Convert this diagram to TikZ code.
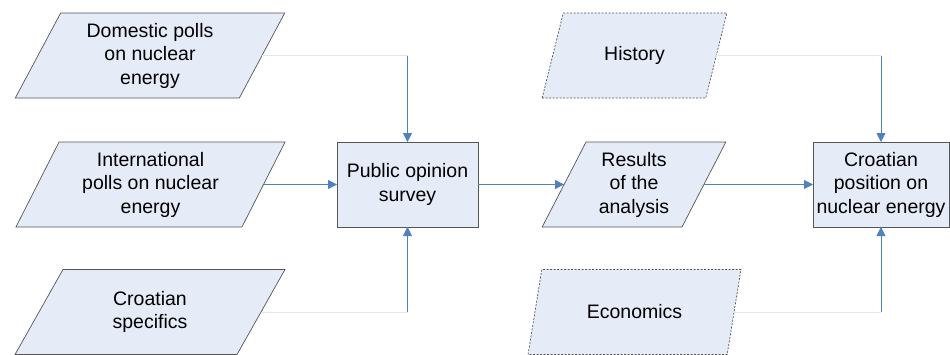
\documentclass[tikz,border=0pt]{standalone}
\usepackage{fontspec}
\setmainfont{Liberation Sans}
\usetikzlibrary{shapes.geometric,arrows.meta}

\definecolor{boxfill}{RGB}{230,236,247}
\definecolor{boxline}{RGB}{85,85,85}
\definecolor{arrowblue}{RGB}{79,129,189}
\definecolor{faintline}{RGB}{222,232,242}

\tikzset{
  base/.style={fill=boxfill, draw=boxline, line width=0.7pt, align=center,
    inner sep=0pt, outer sep=0pt, minimum height=85pt},
  process/.style={base, rectangle},
  data/.style={base, trapezium, trapezium left angle=63.7,
    trapezium right angle=116.3, trapezium stretches=true},
  extdata/.style={data, dash pattern=on 2pt off 1.5pt},
  conn/.style={draw=arrowblue, line width=0.8pt, -{Triangle[width=9pt,length=9pt]}},
  faint/.style={draw=faintline, line width=0.8pt}
}

\begin{document}
\begin{tikzpicture}[x=1pt, y=-1pt, font=\fontsize{19.5}{23.5}\selectfont]
 \useasboundingbox (0,0) rectangle (950,354);

 % inputs
 \node[data, minimum width=270pt] (dom) at (150,55.5) {Domestic polls\\on nuclear\\energy};
 \node[data, minimum width=270pt] (intl) at (150.5,184.5) {International\\polls on nuclear\\energy};
 \node[data, minimum width=270pt] (spec) at (150,312) {Croatian\\specifics};
 \node[process, minimum width=141pt] (survey) at (407.5,184.5) {Public opinion\\survey};

 % outputs
 \node[data, minimum width=184pt] (results) at (634,184.5) {Results\\of the\\analysis};
 \node[extdata, minimum width=185pt] (hist) at (634.5,55.5) {History};
 \node[extdata, minimum width=213pt] (econ) at (634.5,312) {Economics};
 \node[process, minimum width=136pt] (position) at (881,184.5) {Croatian\\position on\\nuclear energy};

 \coordinate (domc) at (survey.north |- dom.right side);
 \coordinate (specc) at (survey.south |- spec.right side);
 \coordinate (histc) at (position.north |- hist.right side);
 \coordinate (econc) at (position.south |- econ.right side);

 \draw[faint] (dom.right side) -- (domc);
 \draw[faint] (spec.right side) -- (specc);
 \draw[faint] (hist.right side) -- (histc);
 \draw[faint] (econ.right side) -- (econc);

 \draw[conn] (domc) -- (survey.north);
 \draw[conn] (specc) -- (survey.south);
 \draw[conn] (intl.right side) -- (survey.west);
 \draw[conn] (survey.east) -- (results.left side);
 \draw[conn] (results.right side) -- (position.west);
 \draw[conn] (histc) -- (position.north);
 \draw[conn] (econc) -- (position.south);
\end{tikzpicture}
\end{document}
